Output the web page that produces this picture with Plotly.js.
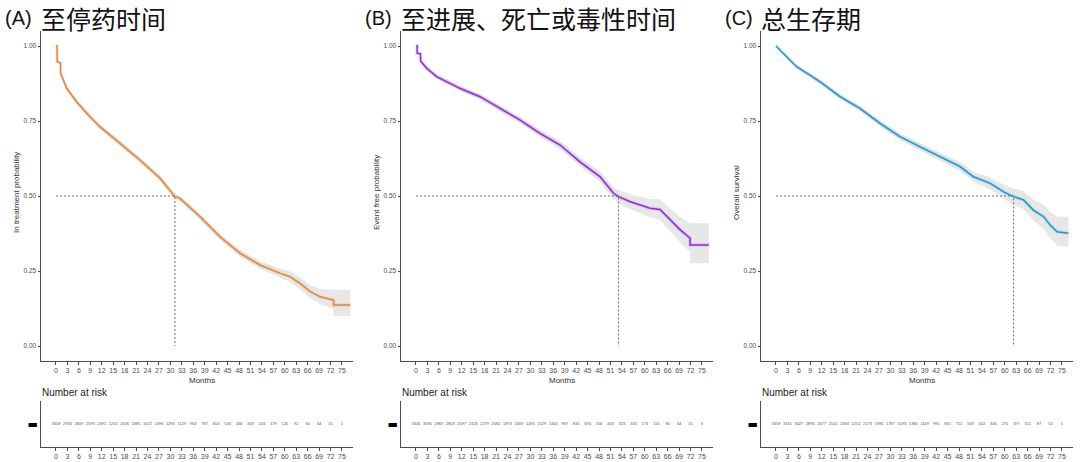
<!DOCTYPE html>
<html>
<head>
<meta charset="utf-8">
<script src="https://cdn.plot.ly/plotly-3.0.1.min.js"></script>
<style>html,body{margin:0;padding:0;background:#fff;}#chart{width:1080px;height:462px;}</style>
</head>
<body>
<div id="chart"></div>
<script>
// ---------- data ----------
const panelLetters = ["(A)", "(B)", "(C)"];
const panelTitles = ["至停药时间", "至进展、死亡或毒性时间", "总生存期"];
const yTitles = ["In treatment probability", "Event free probability", "Overall survival"];
const lineColors = ["#DD883C", "#8E2FD6", "#1F97CE"];

const timeA = [0, 0.3, 0.3, 1.2, 1.2, 2.8, 5.4, 8.9, 11.5, 16.8, 22.0, 27.3, 31.2, 32.5, 37.8, 43.0, 48.3, 53.5, 58.8, 61.4, 64.0, 66.7, 69.3, 72.8, 72.8, 77.2];
const survA = [1.0, 1.0, 0.948, 0.943, 0.910, 0.859, 0.814, 0.764, 0.731, 0.676, 0.620, 0.559, 0.498, 0.492, 0.431, 0.364, 0.309, 0.270, 0.242, 0.231, 0.209, 0.181, 0.164, 0.153, 0.137, 0.137];
const lowA  = [1.0, 1.0, 0.944, 0.939, 0.905, 0.853, 0.807, 0.756, 0.723, 0.668, 0.611, 0.550, 0.489, 0.483, 0.421, 0.354, 0.298, 0.257, 0.226, 0.213, 0.189, 0.159, 0.139, 0.123, 0.100, 0.100];
const upA   = [1.0, 1.0, 0.952, 0.947, 0.915, 0.865, 0.821, 0.772, 0.739, 0.684, 0.629, 0.568, 0.507, 0.501, 0.441, 0.374, 0.320, 0.283, 0.258, 0.249, 0.229, 0.203, 0.189, 0.187, 0.187, 0.187];

const timeB = [0, 0.3, 0.3, 1.2, 1.2, 2.8, 5.4, 8.0, 11.5, 16.8, 22.0, 27.3, 32.5, 37.8, 43.0, 48.3, 51.8, 53.1, 56.2, 58.8, 61.4, 64.0, 66.7, 69.3, 71.9, 71.9, 76.8];
const survB = [1.0, 1.0, 0.976, 0.974, 0.950, 0.926, 0.898, 0.881, 0.859, 0.831, 0.792, 0.753, 0.709, 0.670, 0.614, 0.564, 0.509, 0.498, 0.481, 0.470, 0.459, 0.455, 0.420, 0.387, 0.359, 0.337, 0.337];
const lowB  = [1.0, 1.0, 0.971, 0.969, 0.944, 0.919, 0.890, 0.873, 0.850, 0.822, 0.782, 0.742, 0.697, 0.657, 0.599, 0.546, 0.488, 0.476, 0.456, 0.442, 0.428, 0.421, 0.382, 0.345, 0.313, 0.276, 0.276];
const upB   = [1.0, 1.0, 0.981, 0.979, 0.956, 0.933, 0.906, 0.889, 0.868, 0.840, 0.802, 0.764, 0.721, 0.683, 0.629, 0.582, 0.530, 0.520, 0.506, 0.498, 0.490, 0.489, 0.458, 0.429, 0.409, 0.409, 0.409];

const timeC = [0, 2.8, 5.4, 8.9, 11.5, 16.8, 22.0, 27.3, 32.5, 37.8, 43.0, 48.3, 51.8, 56.2, 59.7, 62.3, 64.9, 67.5, 70.2, 71.9, 73.7, 76.7];
const survC = [1.0, 0.964, 0.931, 0.903, 0.881, 0.831, 0.792, 0.742, 0.698, 0.664, 0.631, 0.598, 0.564, 0.542, 0.514, 0.498, 0.487, 0.453, 0.431, 0.403, 0.381, 0.376];
const lowC  = [1.0, 0.959, 0.925, 0.896, 0.874, 0.823, 0.783, 0.732, 0.687, 0.652, 0.618, 0.583, 0.547, 0.522, 0.490, 0.471, 0.457, 0.418, 0.391, 0.360, 0.334, 0.331];
const upC   = [1.0, 0.969, 0.937, 0.910, 0.888, 0.839, 0.801, 0.752, 0.709, 0.676, 0.644, 0.613, 0.581, 0.562, 0.538, 0.525, 0.517, 0.488, 0.471, 0.446, 0.431, 0.431];

const medians = [31.2, 53.1, 62.3];

const riskTimes = [0, 3, 6, 9, 12, 15, 18, 21, 24, 27, 30, 33, 36, 39, 42, 45, 48, 51, 54, 57, 60, 63, 66, 69, 72, 75];
const riskA = [3308, 2956, 2809, 2593, 2391, 2205, 2076, 1885, 1672, 1496, 1290, 1129, 963, 787, 654, 534, 436, 333, 243, 179, 126, 92, 60, 34, 15, 1];
const riskB = [3346, 3095, 2969, 2803, 2597, 2426, 2279, 2082, 1873, 1669, 1490, 1329, 1163, 987, 834, 694, 556, 433, 323, 243, 173, 116, 80, 34, 15, 3];
const riskC = [3359, 3161, 3027, 2896, 2677, 2501, 2334, 2251, 2173, 1985, 1787, 1593, 1380, 1169, 995, 831, 711, 569, 442, 346, 270, 197, 151, 87, 54, 5];

const yTickVals = [0, 0.25, 0.5, 0.75, 1.0];
const yTickText = ["0.00", "0.25", "0.50", "0.75", "1.00"];
const xLabel = "Months";
const riskTitle = "Number at risk";
const strataLabel = "▬";

// ---------- build ----------
const W = 1080, H = 462;
const series = [
  {t: timeA, s: survA, lo: lowA, hi: upA, risk: riskA},
  {t: timeB, s: survB, lo: lowB, hi: upB, risk: riskB},
  {t: timeC, s: survC, lo: lowC, hi: upC, risk: riskC}
];
const offsets = [0, 360, 720];
const axisLeftPx = 41, axisRightPx = 353;
const xRange = [-3.93, 77.89];
const axColor = "#4d4d4d";
const fontFam = "Liberation Sans, Arial, sans-serif";

const traces = [];
const layout = {
  width: W, height: H,
  margin: {l: 0, r: 0, t: 0, b: 0},
  paper_bgcolor: "#fff", plot_bgcolor: "#fff",
  showlegend: false,
  font: {family: fontFam, color: axColor},
  annotations: []
};

function baseAxis() {
  return {
    showline: true, linecolor: axColor, linewidth: 1,
    ticks: "outside", ticklen: 2.5, tickcolor: axColor, tickwidth: 1,
    showgrid: false, zeroline: false, fixedrange: true
  };
}

series.forEach((d, i) => {
  const mainIdx = i + 1, riskIdx = i + 4;
  const xm = "x" + (mainIdx === 1 ? "" : mainIdx), ym = "y" + (mainIdx === 1 ? "" : mainIdx);
  const xr = "x" + riskIdx, yr = "y" + riskIdx;
  const off = offsets[i];
  const dom = [(axisLeftPx + off) / W, (axisRightPx + off) / W];

  // confidence band
  traces.push({
    type: "scatter", mode: "lines", xaxis: xm, yaxis: ym,
    x: d.t.concat(d.t.slice().reverse()),
    y: d.lo.concat(d.hi.slice().reverse()),
    fill: "toself", fillcolor: "rgba(175,175,175,0.30)",
    line: {width: 0}, hoverinfo: "skip"
  });
  // halo
  traces.push({
    type: "scatter", mode: "lines", xaxis: xm, yaxis: ym,
    x: d.t, y: d.s, line: {color: lineColors[i], width: 3.5}, opacity: 0.18, hoverinfo: "skip"
  });
  // median lines
  traces.push({
    type: "scatter", mode: "lines", xaxis: xm, yaxis: ym,
    x: [0, medians[i], medians[i]], y: [0.5, 0.5, 0],
    line: {color: "#6b6b6b", width: 1, dash: "2px,2px"}, hoverinfo: "skip"
  });
  // survival curve
  traces.push({
    type: "scatter", mode: "lines", xaxis: xm, yaxis: ym,
    x: d.t, y: d.s, line: {color: lineColors[i], width: 1.5}
  });
  // risk numbers
  traces.push({
    type: "scatter", mode: "text", xaxis: xr, yaxis: yr,
    x: riskTimes, y: riskTimes.map(() => 1), text: d.risk.map(String),
    textfont: {size: 4, color: "#555", family: fontFam}, hoverinfo: "skip"
  });

  const xmKey = "xaxis" + (mainIdx === 1 ? "" : mainIdx), ymKey = "yaxis" + (mainIdx === 1 ? "" : mainIdx);
  layout[xmKey] = Object.assign(baseAxis(), {
    domain: dom, range: xRange, anchor: ym, tickvals: riskTimes,
    tickfont: {size: 7, color: axColor, family: fontFam}
  });
  layout[ymKey] = Object.assign(baseAxis(), {
    domain: [1 - 361 / H, 1 - 31 / H], range: [-0.05, 1.05], anchor: xm,
    tickvals: yTickVals, ticktext: yTickText,
    tickfont: {size: 6.5, color: axColor, family: fontFam}
  });
  layout["xaxis" + riskIdx] = Object.assign(baseAxis(), {
    domain: dom, range: xRange, anchor: yr, tickvals: riskTimes,
    tickfont: {size: 7, color: axColor, family: fontFam}
  });
  layout["yaxis" + riskIdx] = Object.assign(baseAxis(), {
    domain: [1 - 447 / H, 1 - 401 / H], range: [0.5, 1.5], anchor: xr,
    tickvals: [1], ticktext: [strataLabel], ticks: "", ticklen: 0,
    tickfont: {size: 11, color: "#000", family: "DejaVu Sans"}
  });

  // panel titles
  layout.annotations.push({
    xref: "paper", yref: "paper", x: (3 + off) / W, y: 1 - 18 / H,
    xanchor: "left", yanchor: "middle", showarrow: false,
    text: panelLetters[i], font: {size: 20, color: "#111", family: fontFam}
  });
  layout.annotations.push({
    xref: "paper", yref: "paper", x: (39 + off) / W, y: 1 - 18 / H,
    xanchor: "left", yanchor: "middle", showarrow: false,
    text: panelTitles[i], font: {size: 25, color: "#111", family: "Noto Sans CJK SC"}
  });
  // y title
  layout.annotations.push({
    xref: "paper", yref: "paper", x: (16 + off) / W, y: 1 - 193 / H,
    xanchor: "center", yanchor: "middle", showarrow: false, textangle: -90,
    text: yTitles[i], font: {size: 8, color: "#333", family: fontFam}
  });
  // x title
  layout.annotations.push({
    xref: "paper", yref: "paper", x: (202 + off) / W, y: 1 - 380 / H,
    xanchor: "center", yanchor: "middle", showarrow: false,
    text: xLabel, font: {size: 8, color: "#333", family: fontFam}
  });
  // risk title
  layout.annotations.push({
    xref: "paper", yref: "paper", x: (40 + off) / W, y: 1 - 392 / H,
    xanchor: "left", yanchor: "middle", showarrow: false,
    text: riskTitle, font: {size: 10, color: "#222", family: fontFam}
  });
});

Plotly.newPlot("chart", traces, layout, {displayModeBar: false, staticPlot: true});
</script>
</body>
</html>
